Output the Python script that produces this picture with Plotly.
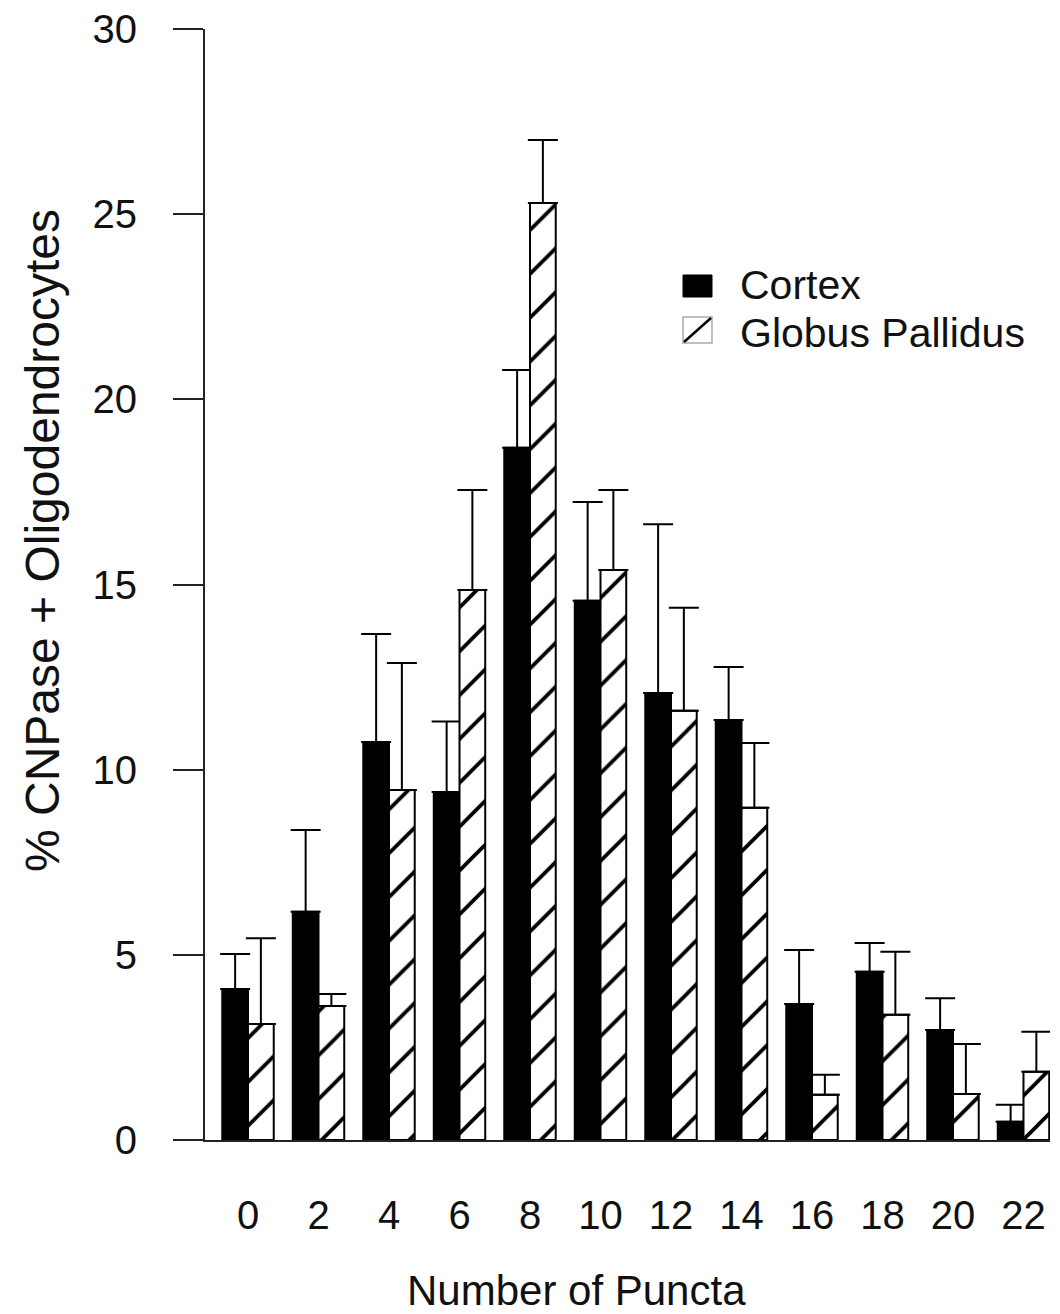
import plotly.graph_objects as go

# ---- data ----
puncta = ["0", "2", "4", "6", "8", "10", "12", "14", "16", "18", "20", "22"]
cortex_mean = [4.08, 6.16, 10.75, 9.40, 18.69, 14.56, 12.07, 11.34, 3.67, 4.54, 2.97, 0.49]
cortex_sem = [0.94, 2.21, 2.91, 1.90, 2.10, 2.67, 4.56, 1.43, 1.46, 0.78, 0.86, 0.46]
gp_mean = [3.13, 3.62, 9.45, 14.85, 25.30, 15.39, 11.59, 8.97, 1.22, 3.38, 1.24, 1.84]
gp_sem = [2.32, 0.32, 3.43, 2.70, 1.70, 2.16, 2.78, 1.75, 0.54, 1.70, 1.35, 1.08]
y_ticks = [0, 5, 10, 15, 20, 25, 30]

FONT = "Liberation Sans, Arial, Helvetica, sans-serif"
OFF = 8  # page body margin
W, H = 1060 - OFF, 1314 - OFF
ML, MR, MT, MB = 205 - OFF, 10, 29 - OFF, 174
pw, ph = W - ML - MR, H - MT - MB


def px(x):
    return (x - OFF - ML) / pw


def py(y):
    return (H - MB - (y - OFF)) / ph


xpos = list(range(len(puncta)))

fig = go.Figure()
fig.add_trace(go.Bar(
    x=xpos, y=cortex_mean, name="Cortex",
    marker=dict(color="black", line=dict(color="black", width=2)),
    error_y=dict(type="data", symmetric=False, array=cortex_sem,
                 arrayminus=[0] * len(cortex_sem), color="black",
                 thickness=2, width=15),
    showlegend=False,
))
fig.add_trace(go.Bar(
    x=xpos, y=gp_mean, name="Globus Pallidus",
    marker=dict(color="white", line=dict(color="black", width=2),
                pattern=dict(shape="/", fgcolor="black", bgcolor="white",
                             size=31, solidity=0.12, fgopacity=1)),
    error_y=dict(type="data", symmetric=False, array=gp_sem,
                 arrayminus=[0] * len(gp_sem), color="black",
                 thickness=2, width=15),
    showlegend=False,
))

fig.update_layout(
    width=W, height=H,
    margin=dict(l=ML, r=MR, t=MT, b=MB, pad=0, autoexpand=False),
    paper_bgcolor="white", plot_bgcolor="white",
    barmode="group", bargap=0.27, bargroupgap=0,
    font=dict(family=FONT, size=40, color="#111"),
    xaxis=dict(
        range=[-0.61, 11.376], tickmode="array", tickvals=xpos, ticktext=puncta,
        showline=True, linecolor="#222", linewidth=2, ticks="",
        showgrid=False, zeroline=False, ticklabelstandoff=39,
        tickfont=dict(size=40), ticklabeloverflow="allow", automargin=False,
    ),
    yaxis=dict(
        range=[0, 30], tickmode="array", tickvals=y_ticks,
        showline=True, linecolor="#222", linewidth=2,
        ticks="outside", ticklen=30, tickwidth=2, tickcolor="#222",
        showgrid=False, zeroline=False, ticklabelstandoff=28,
        tickfont=dict(size=40), ticklabeloverflow="allow", automargin=False,
    ),
    annotations=[
        dict(text="Number of Puncta", x=px(576), y=py(1290), xref="paper", yref="paper",
             showarrow=False, xanchor="center", yanchor="middle", font=dict(size=42)),
        dict(text="% CNPase + Oligodendrocytes", x=px(42), y=py(541), xref="paper", yref="paper",
             showarrow=False, xanchor="center", yanchor="middle", textangle=-90,
             font=dict(size=48)),
        dict(text="Cortex", x=px(738), y=py(285), xref="paper", yref="paper",
             showarrow=False, xanchor="left", yanchor="middle", font=dict(size=41)),
        dict(text="Globus Pallidus", x=px(738), y=py(333), xref="paper", yref="paper",
             showarrow=False, xanchor="left", yanchor="middle", font=dict(size=41)),
    ],
    shapes=[
        dict(type="rect", xref="paper", yref="paper", x0=px(683), x1=px(712),
             y0=py(297), y1=py(275), fillcolor="black", line=dict(color="black", width=1)),
        dict(type="rect", xref="paper", yref="paper", x0=px(683), x1=px(712),
             y0=py(343), y1=py(317), fillcolor="white", line=dict(color="#aaa", width=1.5)),
        dict(type="line", xref="paper", yref="paper", x0=px(684), x1=px(711),
             y0=py(342), y1=py(318), line=dict(color="black", width=2.5)),
    ],
)

fig.write_html("out.html")
